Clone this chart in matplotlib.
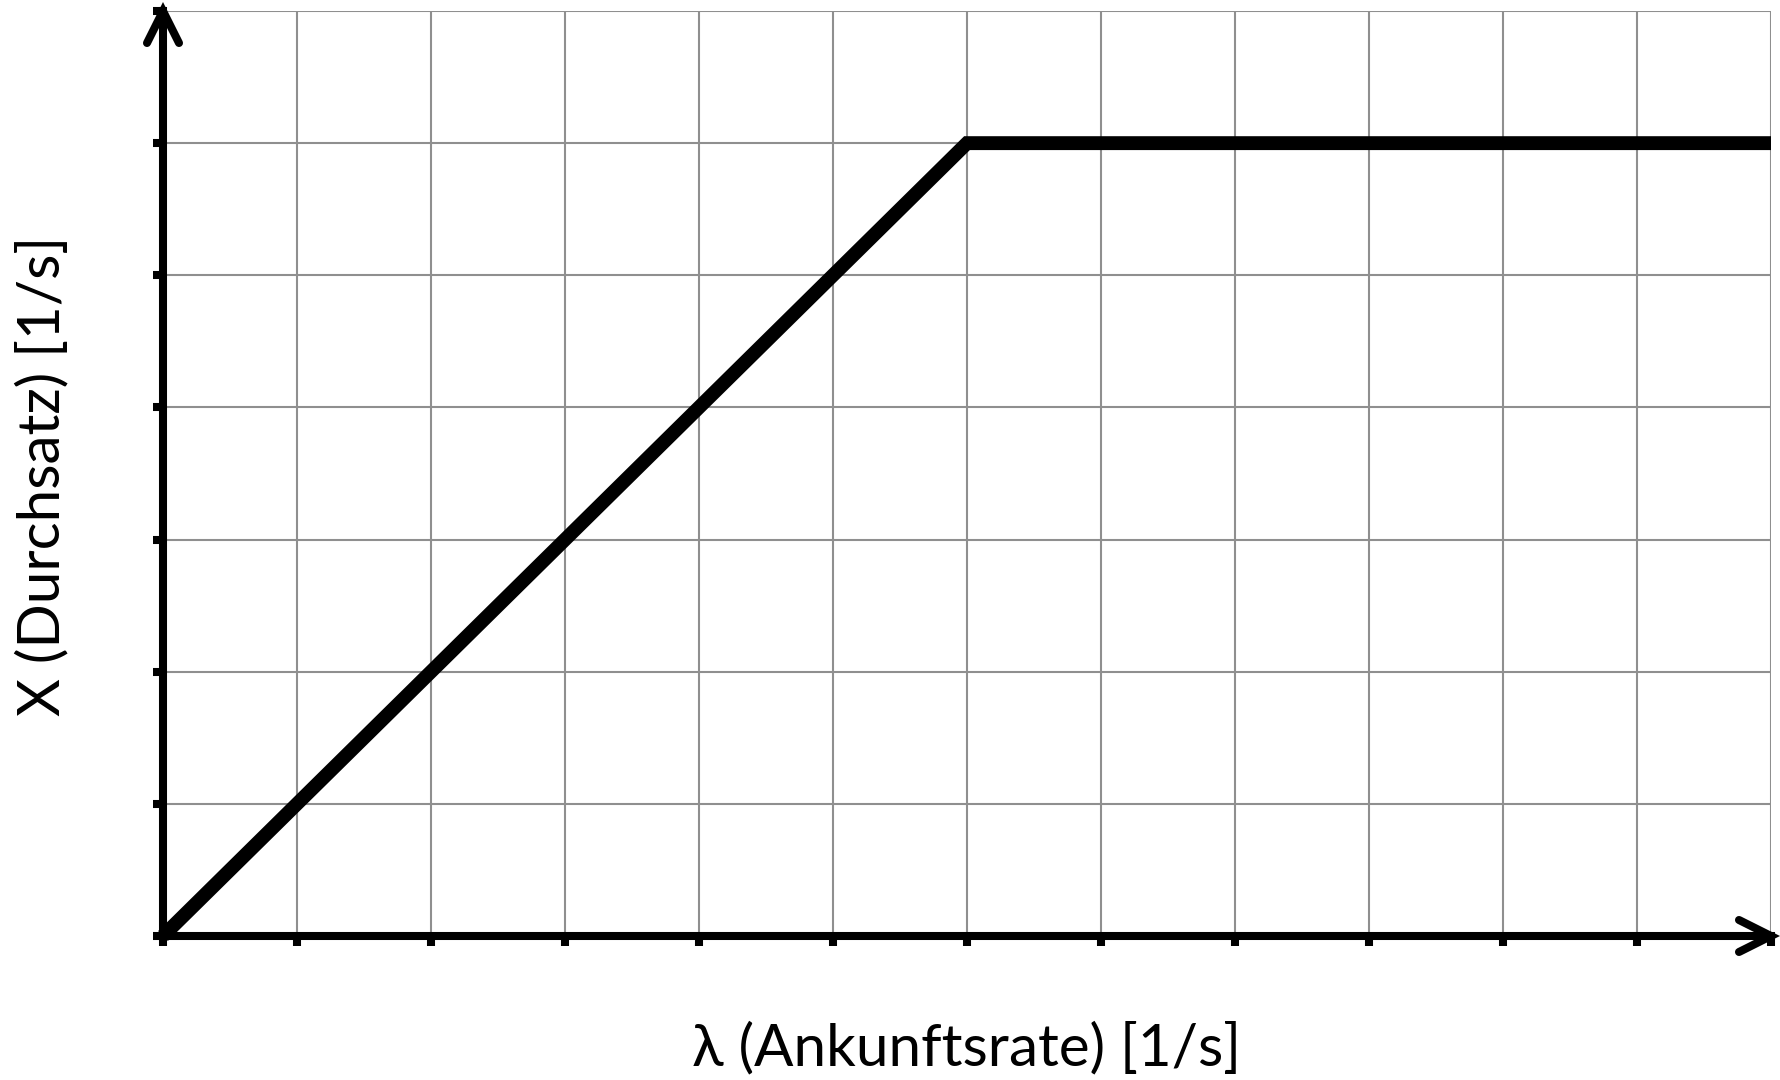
import matplotlib
matplotlib.use("Agg")
import matplotlib.pyplot as plt
from matplotlib.lines import Line2D

# Data: throughput vs arrival rate (saturates at 6)
lam = [0, 6, 12]
throughput = [0, 6, 6]
x_ticks = list(range(0, 13))
y_ticks = list(range(0, 8))
xlabel = "λ (Ankunftsrate) [1/s]"
ylabel = "X (Durchsatz) [1/s]"

W, H, DPI = 1781, 1080, 100
fig = plt.figure(figsize=(W / DPI, H / DPI), dpi=DPI)
L, R, T, B = 163, 1771, 11, 936
ax = fig.add_axes([L / W, 1 - B / H, (R - L) / W, (B - T) / H])

ax.set_xlim(0, 12)
ax.set_ylim(0, 7)
ax.set_xticks(x_ticks)
ax.set_yticks(y_ticks)
ax.set_xticklabels([])
ax.set_yticklabels([])
ax.grid(True, color="#8f8f8f", lw=1.5)
ax.set_axisbelow(True)

for s in ["top", "right"]:
    ax.spines[s].set_visible(False)
for s in ["left", "bottom"]:
    ax.spines[s].set_linewidth(5.8)
    ax.spines[s].set_color("black")
    ax.spines[s].set_zorder(4)
ax.tick_params(direction="out", length=7, width=5.8, color="black")

ax.plot(lam, throughput, color="black", lw=10, solid_joinstyle="miter",
        solid_capstyle="butt", zorder=3, clip_on=False)

# arrowheads (open chevrons) in axes-fraction coordinates
aw, ah = R - L, B - T
arm_back, arm_side = 32, 16
# y axis arrow
ax.add_line(Line2D([-arm_side / aw, 0, arm_side / aw],
                   [1 - arm_back / ah, 1, 1 - arm_back / ah],
                   transform=ax.transAxes, color="black", lw=5.8,
                   solid_capstyle="round", solid_joinstyle="miter",
                   clip_on=False, zorder=5))
# x axis arrow
ax.add_line(Line2D([1 - arm_back / aw, 1, 1 - arm_back / aw],
                   [arm_side / ah, 0, -arm_side / ah],
                   transform=ax.transAxes, color="black", lw=5.8,
                   solid_capstyle="round", solid_joinstyle="miter",
                   clip_on=False, zorder=5))

font = ["Lato", "DejaVu Sans"]
fig.text((L + R) / 2 / W, 1 - 1065 / H, xlabel, ha="center", va="baseline",
         fontsize=42, family=font)
fig.text(43 / W, 1 - 476 / H, ylabel, ha="center", va="center",
         rotation=90, fontsize=42, family=font)

fig.savefig("out.png", dpi=DPI)
